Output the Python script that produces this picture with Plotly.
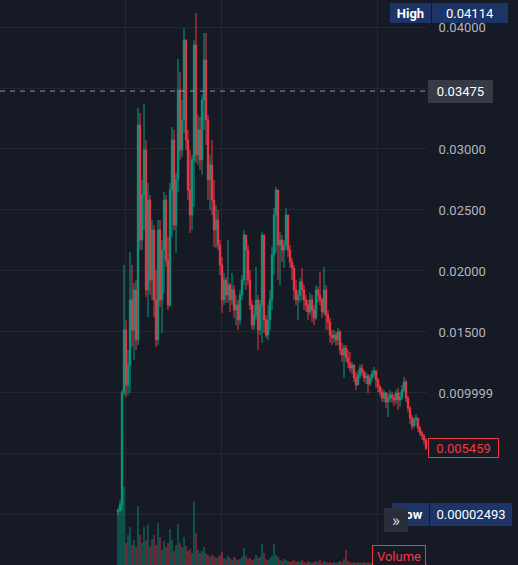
import plotly.graph_objects as go

# candle data, one candle per period (open = previous close)
first_open = 0.00025
closes = [
    0.00041, 0.00082, 0.0100, 0.01517, 0.01066, 0.0123, 0.01763, 0.01517, 0.01844, 0.01435,
    0.03197, 0.02254, 0.02623, 0.02992, 0.01844, 0.02582, 0.01926, 0.02336, 0.01763, 0.01435,
    0.02336, 0.01763, 0.02172, 0.02582, 0.0209, 0.01721, 0.02664, 0.03074, 0.02377, 0.02746,
    0.03484, 0.02992, 0.03238, 0.03894, 0.03074, 0.02664, 0.02459, 0.0291, 0.03853, 0.02951,
    0.03156, 0.0291, 0.03402, 0.0373, 0.03238, 0.02746, 0.02869, 0.02582, 0.02336, 0.02418,
    0.02213, 0.0205, 0.01763, 0.01926, 0.01803, 0.01885, 0.01763, 0.01844, 0.0168, 0.01721,
    0.01599, 0.01803, 0.01926, 0.02295, 0.02172, 0.01926, 0.01721, 0.01557, 0.01639, 0.01763,
    0.01517, 0.01721, 0.02295, 0.01599, 0.01475, 0.01599, 0.01763, 0.02131, 0.02459, 0.02664,
    0.02213, 0.02254, 0.02172, 0.02213, 0.02459, 0.02172, 0.02074, 0.02025, 0.01844, 0.01763,
    0.01803, 0.0191, 0.01844, 0.01763, 0.01721, 0.01664, 0.01763, 0.0168, 0.01615, 0.01844,
    0.01803, 0.01763, 0.01664, 0.01844, 0.01639, 0.01582, 0.01475, 0.01451, 0.01475, 0.01435,
    0.015, 0.01353, 0.01312, 0.01369, 0.01287, 0.01246, 0.01205, 0.0123, 0.01123, 0.01066,
    0.01148, 0.01205, 0.01172, 0.01123, 0.01139, 0.01074, 0.01123, 0.01156, 0.0118, 0.01107,
    0.01049, 0.01008, 0.00959, 0.0100, 0.00926, 0.00959, 0.00984, 0.00959, 0.00943, 0.0100,
    0.00943, 0.00967, 0.01025, 0.0109, 0.00959, 0.00877, 0.00795, 0.0073, 0.00779, 0.00795,
    0.00713, 0.00672, 0.00648, 0.00615, 0.005459,
]
highs = [
    0.00057, 0.00123, 0.01025, 0.0205, 0.01599, 0.01353, 0.02156, 0.0205, 0.01902, 0.01926,
    0.03336, 0.03295, 0.02746, 0.03369, 0.03074, 0.02721, 0.02623, 0.02418, 0.02377, 0.02008,
    0.02418, 0.02418, 0.02254, 0.02648, 0.02623, 0.02279, 0.02721, 0.0318, 0.03156, 0.02803,
    0.03738, 0.03631, 0.03402, 0.03992, 0.03894, 0.03156, 0.02992, 0.02951, 0.03894, 0.04114,
    0.03279, 0.03262, 0.03443, 0.03951, 0.03951, 0.03279, 0.02951, 0.03074, 0.02746, 0.02541,
    0.025, 0.02254, 0.02115, 0.01984, 0.01951, 0.02254, 0.01902, 0.01984, 0.01885, 0.01803,
    0.01763, 0.01844, 0.01967, 0.02336, 0.0223, 0.02213, 0.02008, 0.01763, 0.01721, 0.02033,
    0.01803, 0.01763, 0.0232, 0.02254, 0.01639, 0.01721, 0.01844, 0.02197, 0.02516, 0.02689,
    0.02525, 0.0232, 0.02295, 0.02254, 0.02516, 0.02443, 0.02213, 0.02107, 0.0205, 0.01926,
    0.01844, 0.01943, 0.02025, 0.01885, 0.01803, 0.01763, 0.0182, 0.01803, 0.01721, 0.01885,
    0.01869, 0.01992, 0.01779, 0.02033, 0.01885, 0.0168, 0.01615, 0.01517, 0.01517, 0.015,
    0.01533, 0.01517, 0.0141, 0.01393, 0.01393, 0.01353, 0.01336, 0.01254, 0.0123, 0.01172,
    0.01189, 0.0123, 0.01238, 0.01189, 0.01172, 0.01156, 0.01148, 0.01189, 0.01213, 0.01189,
    0.01123, 0.01066, 0.01041, 0.01025, 0.01008, 0.0100, 0.01025, 0.01008, 0.00992, 0.01025,
    0.01041, 0.01008, 0.01066, 0.01131, 0.01107, 0.00975, 0.00893, 0.0082, 0.00803, 0.00828,
    0.00795, 0.0073, 0.00689, 0.00664, 0.00631,
]
lows = [
    0.00002493, 0.00025, 0.00041, 0.00984, 0.00967, 0.00984, 0.0100, 0.01377, 0.01271, 0.01353,
    0.01393, 0.02172, 0.02172, 0.02336, 0.01787, 0.01623, 0.01803, 0.01763, 0.01623, 0.01377,
    0.01393, 0.01705, 0.01492, 0.0182, 0.02033, 0.0168, 0.01705, 0.02279, 0.02336, 0.02148,
    0.02648, 0.0291, 0.02935, 0.03131, 0.02992, 0.02582, 0.02312, 0.02336, 0.02525, 0.02885,
    0.02869, 0.02828, 0.02787, 0.03156, 0.03033, 0.02582, 0.025, 0.02459, 0.02197, 0.02189,
    0.02172, 0.01967, 0.01656, 0.01721, 0.01738, 0.01738, 0.01664, 0.01721, 0.01615, 0.01557,
    0.01517, 0.01557, 0.01763, 0.01885, 0.01844, 0.01885, 0.0168, 0.01517, 0.01517, 0.01599,
    0.01353, 0.01475, 0.0141, 0.01492, 0.01451, 0.01435, 0.01517, 0.0168, 0.01967, 0.02148,
    0.01926, 0.01885, 0.02074, 0.02025, 0.02172, 0.02115, 0.02025, 0.01926, 0.01763, 0.01721,
    0.01599, 0.01746, 0.01763, 0.0168, 0.01664, 0.01599, 0.01639, 0.01582, 0.01557, 0.01599,
    0.01746, 0.01721, 0.01615, 0.01639, 0.01517, 0.01517, 0.0141, 0.01393, 0.0141, 0.01385,
    0.01393, 0.01312, 0.01254, 0.01123, 0.01254, 0.01205, 0.01172, 0.01156, 0.0109, 0.01025,
    0.01066, 0.01123, 0.01139, 0.0109, 0.01074, 0.0100, 0.01057, 0.0109, 0.01123, 0.01041,
    0.01008, 0.00975, 0.00926, 0.00926, 0.00877, 0.00803, 0.00926, 0.00918, 0.00893, 0.0091,
    0.00861, 0.00885, 0.00943, 0.01008, 0.00926, 0.00844, 0.00746, 0.00697, 0.00713, 0.0073,
    0.0068, 0.00648, 0.00615, 0.00582, 0.00533,
]
volumes = [
    55, 60, 125, 78, 22, 30, 38, 20, 25, 18,
    59, 30, 22, 38, 25, 40, 18, 26, 30, 20,
    42, 28, 15, 24, 18, 22, 36, 25, 14, 20,
    41, 22, 18, 28, 19, 14, 16, 12, 64, 32,
    15, 12, 14, 18, 12, 10, 8, 10, 9, 7,
    8, 10, 13, 7, 6, 9, 7, 5, 8, 6,
    5, 6, 8, 17, 9, 6, 7, 5, 6, 10,
    7, 8, 21, 12, 6, 5, 7, 9, 21, 10,
    8, 5, 4, 6, 5, 4, 3, 4, 5, 3,
    4, 3, 5, 3, 2, 4, 3, 2, 3, 4,
    3, 5, 2, 4, 3, 2, 3, 2, 3, 2,
    3, 4, 3, 6, 15, 4, 3, 2, 3, 2,
    3, 2, 2, 3, 2, 3, 2, 2, 3, 2,
    2, 3, 2, 2, 3, 2, 2, 2, 3, 2,
    2, 2, 3, 2, 2, 2, 3, 2, 2, 2,
    2, 2, 2, 2, 2,
]
# labels at 0, 0.005 and 0.035 sit under the price badges, so they stay blank
y_tick_vals = [0, 0.005, 0.01, 0.015, 0.02, 0.025, 0.03, 0.035, 0.04]
y_tick_text = ['', '', '0.009999', '0.01500', '0.02000', '0.02500',
               '0.03000', '', '0.04000']
x_grid_vals = [3.5, 51.5, 129.5]
mark_price = 0.03475


def dict_layout_cols():
    dict_cols = {
        'bg': '#161a25',
        'grid': '#232733',
        'text': '#b2b5be',
        'up': '#089981',
        'down': '#f23645',
        'up_vol': 'rgba(8,153,129,0.5)',
        'down_vol': 'rgba(242,54,69,0.5)',
        'navy': '#1c3566',
        'badge': '#363a45',
        'button': '#2a2e39',
        'white': '#ffffff',
    }
    return dict_cols


cols = dict_layout_cols()
W, H = 518, 565
PLOT_W = 427

opens = [first_open] + closes[:-1]
idx = list(range(len(closes)))
vol_cols = [cols['up_vol'] if c >= o else cols['down_vol'] for o, c in zip(opens, closes)]

fig = go.Figure()

fig.add_trace(go.Bar(
    x=idx, y=volumes, yaxis='y2',
    marker=dict(color=vol_cols, line=dict(width=0)),
    hoverinfo='skip',
))

fig.add_trace(go.Candlestick(
    x=idx, open=opens, high=highs, low=lows, close=closes,
    increasing=dict(line=dict(color=cols['up'], width=1), fillcolor=cols['up']),
    decreasing=dict(line=dict(color=cols['down'], width=1), fillcolor=cols['down']),
    whiskerwidth=0,
))

fig.add_shape(type='line', xref='paper', x0=0, x1=1, yref='y', y0=mark_price, y1=mark_price,
              line=dict(color='#9598a1', width=1, dash='5px,5px'))


def label(px, py, w, h, text, bg, fg, border=None, size=13, bold=False):
    # place a box by its top-left pixel corner
    fig.add_annotation(
        xref='paper', yref='paper', x=px / PLOT_W, y=1 - py / H,
        xanchor='left', yanchor='top', width=w - 2, height=h - 2,
        text='<b>%s</b>' % text if bold else text, showarrow=False,
        bgcolor=bg, bordercolor=border or bg, borderwidth=1, borderpad=0,
        font=dict(color=fg, size=size, family='Roboto'), align='center',
    )


label(390, 3, 41, 20, 'High', cols['navy'], cols['white'], bold=True)
label(432, 3, 76, 20, '0.04114', cols['navy'], cols['white'])
label(428, 80, 65, 23, '0.03475', cols['badge'], cols['white'])
label(428, 438, 71, 20, '0.005459', cols['bg'], cols['down'], border=cols['down'])
label(392, 503, 37, 23, 'Low', cols['navy'], cols['white'], bold=True)
label(430, 503, 82, 23, '0.00002493', cols['navy'], cols['white'])
label(384, 508, 24, 24, '»', cols['button'], '#d1d4dc', size=17)
label(372, 545, 54, 22, 'Volume', cols['bg'], cols['down'], border=cols['down'])

fig.update_xaxes(
    range=[-59, 154.5], showticklabels=False, tickvals=x_grid_vals,
    showgrid=True, gridcolor=cols['grid'], zeroline=False, showline=False,
    rangeslider_visible=False,
)

fig.update_layout(
    width=W, height=H,
    margin=dict(l=0, r=W - PLOT_W, t=0, b=0),
    paper_bgcolor=cols['bg'], plot_bgcolor=cols['bg'],
    showlegend=False, hovermode=False, bargap=0.15, boxgap=0.05,
    font=dict(family='Roboto', color=cols['text'], size=13),
    yaxis=dict(
        side='right', range=[-0.0041, 0.042213],
        tickvals=y_tick_vals, ticktext=y_tick_text,
        ticks='outside', ticklen=8, tickcolor=cols['bg'],
        gridcolor=cols['grid'], zeroline=False, showline=False,
        tickfont=dict(color=cols['text'], size=13),
    ),
    yaxis2=dict(overlaying='y', range=[0, 565], visible=False),
)

# drop the page's default body margin so the chart sits at the window corner
fig.write_html("out.html", config={'displayModeBar': False},
               post_script="document.body.style.margin='0';")
